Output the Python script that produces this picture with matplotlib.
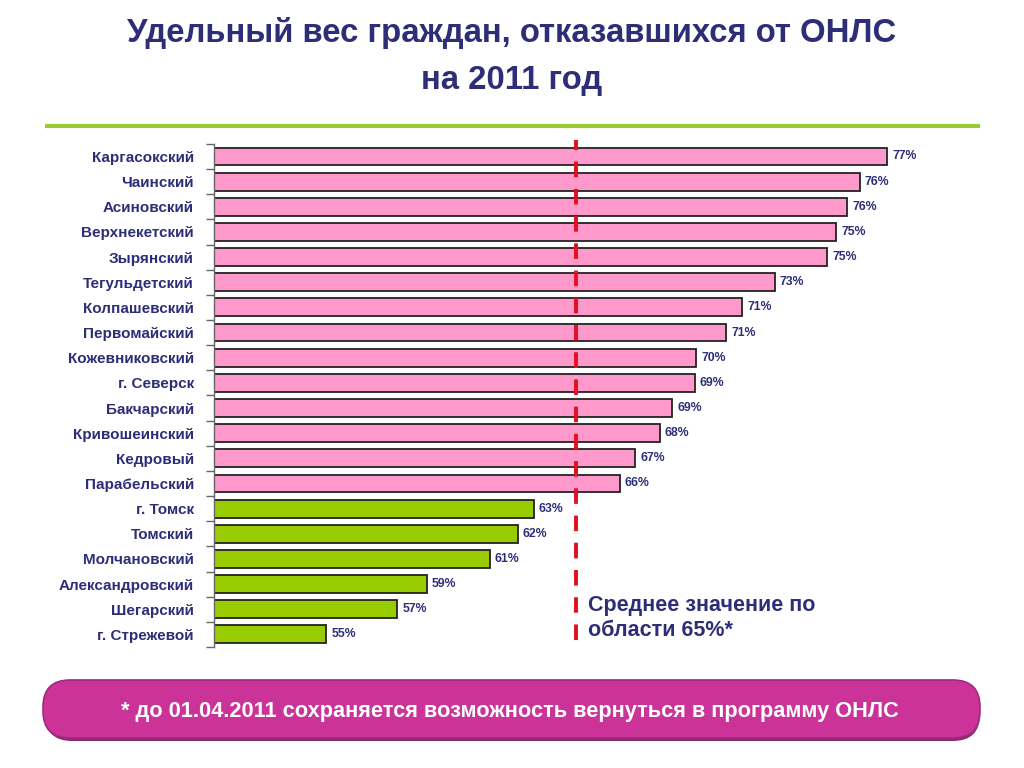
import matplotlib.pyplot as plt
from matplotlib.patches import FancyBboxPatch
import numpy as np

districts = ['Каргасокский', 'Чаинский', 'Асиновский', 'Верхнекетский', 'Зырянский',
             'Тегульдетский', 'Колпашевский', 'Первомайский', 'Кожевниковский', 'г. Северск',
             'Бакчарский', 'Кривошеинский', 'Кедровый', 'Парабельский', 'г. Томск',
             'Томский', 'Молчановский', 'Александровский', 'Шегарский', 'г. Стрежевой']
values = [77.06, 75.97, 75.48, 75.04, 74.70, 72.63, 71.36, 70.72, 69.54, 69.49,
          68.6, 68.12, 67.14, 66.55, 63.16, 62.53, 61.44, 58.95, 57.81, 55.02]
labels = ['77%', '76%', '76%', '75%', '75%', '73%', '71%', '71%', '70%', '69%',
          '69%', '68%', '67%', '66%', '63%', '62%', '61%', '59%', '57%', '55%']
mean_value = 64.81

navy = '#2e2e78'
pink = '#ff99cc'
green = '#99cc00'
font = ['Liberation Sans', 'DejaVu Sans']

fig = plt.figure(figsize=(10.24, 7.68), dpi=100)

# overlay in pixel units for the decorations
deco = fig.add_axes([0, 0, 1, 1])
deco.set_xlim(0, 1024)
deco.set_ylim(768, 0)
deco.axis('off')
deco.plot([45, 980], [126, 126], color='#99cc33', linewidth=3, solid_capstyle='butt')
shadow = FancyBboxPatch((45, 683), 935, 58, boxstyle='round,pad=0,rounding_size=27',
                        facecolor='#8c2a6c', edgecolor='none')
deco.add_patch(shadow)
banner = FancyBboxPatch((43, 680), 937, 58, boxstyle='round,pad=0,rounding_size=27',
                        facecolor='#cc3399', edgecolor='#a02a80', linewidth=1.2)
deco.add_patch(banner)
deco.text(510, 711, '* до 01.04.2011 сохраняется возможность вернуться в программу ОНЛС',
          ha='center', va='center', fontsize=15.7, fontweight='bold', color='white', family=font)

ax = fig.add_axes([0.209, 0.1576, 0.753, 0.655])
ax.patch.set_alpha(0)

colors = [pink if v > mean_value else green for v in values]
y = np.arange(len(districts))
ax.barh(y, np.array(values) - 50.6, left=50.6, height=0.71, color=colors,
        edgecolor='#222222', linewidth=1.3)
for yi, v, t in zip(y, values, labels):
    ax.text(v + 0.2, yi, t, va='center', ha='left', fontsize=8.8,
            color=navy, family=font, fontweight='bold')

ax.set_xlim(50.6, 80.9)
ax.set_ylim(len(districts) - 0.5, -0.5)
ax.set_yticks(y)
ax.set_yticklabels(districts, family=font, fontweight='bold', fontsize=11, color=navy)
ax.tick_params(axis='y', which='major', length=0, pad=14.5)
ax.set_yticks(np.arange(len(districts) + 1) - 0.5, minor=True)
ax.tick_params(axis='y', which='minor', length=6, color='#666666', width=1)
ax.set_xticks([])
for s in ['top', 'right', 'bottom']:
    ax.spines[s].set_visible(False)
ax.spines['left'].set_color('#666666')
ax.spines['left'].set_linewidth(1)

ax.axvline(mean_value, ymin=0.014, ymax=1.008, color='#e01020', linewidth=2.8,
           linestyle=(0, (4, 3)), clip_on=False)
ax.text(mean_value + 0.5, 18.35, 'Среднее значение по\nобласти 65%*', ha='left', va='center',
        fontsize=15.5, fontweight='bold', color=navy, linespacing=1.3, family=font)

fig.text(0.5, 1 - 33 / 768, 'Удельный вес граждан, отказавшихся от ОНЛС', ha='center', va='center',
         fontsize=23.7, fontweight='bold', color=navy, family=font)
fig.text(0.5, 1 - 80 / 768, 'на 2011 год', ha='center', va='center',
         fontsize=23.7, fontweight='bold', color=navy, family=font)

fig.savefig('out.png', dpi=100)
